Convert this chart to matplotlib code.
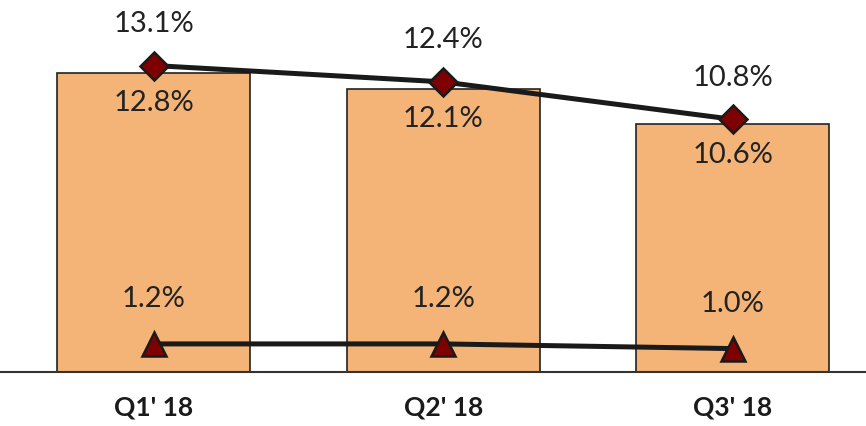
import matplotlib.pyplot as plt

quarters = ["Q1' 18", "Q2' 18", "Q3' 18"]
bar_vals = [12.8, 12.1, 10.6]
diamond_vals = [13.1, 12.4, 10.8]
triangle_vals = [1.2, 1.2, 1.0]

plt.rcParams['font.family'] = ['Lato', 'DejaVu Sans']

fig = plt.figure(figsize=(8.66, 4.26), dpi=100)
ax = fig.add_axes([0, 0.1268, 1, 0.8732])

x = range(len(quarters))
ax.bar(x, bar_vals, width=0.667, color='#F4B477', edgecolor='#222222', linewidth=1.2, zorder=2)
ax.plot(x, diamond_vals, color='#1a1a1a', lw=3.6, marker='D', ms=14,
        mfc='#7f0000', mec='#1a1a1a', mew=1.8, zorder=4)
ax.plot(x, triangle_vals, color='#1a1a1a', lw=3.6, marker='^', ms=17,
        mfc='#7f0000', mec='#1a1a1a', mew=1.8, zorder=4)

for i in x:
    ax.annotate(f"{bar_vals[i]:.1f}%", (i, bar_vals[i]), xytext=(0, -22), textcoords='offset points',
                ha='center', va='center', fontsize=21, color='#222222', zorder=5)
    ax.annotate(f"{diamond_vals[i]:.1f}%", (i, diamond_vals[i]), xytext=(0, 30), textcoords='offset points',
                ha='center', va='center', fontsize=21, color='#222222', zorder=5)
    ax.annotate(f"{triangle_vals[i]:.1f}%", (i, triangle_vals[i]), xytext=(0, 32), textcoords='offset points',
                ha='center', va='center', fontsize=21, color='#222222', zorder=5)

ax.set_xlim(-0.53, 2.46)
ax.set_ylim(0, 15.9)
ax.set_xticks(list(x))
ax.set_xticklabels(quarters, fontsize=19, fontweight='bold', color='#1a1a1a')
ax.tick_params(axis='x', length=0, pad=17)
ax.set_yticks([])
for s in ['top', 'right', 'left']:
    ax.spines[s].set_visible(False)
ax.spines['bottom'].set_color('#333333')
ax.spines['bottom'].set_linewidth(1.5)

fig.savefig('out.png', dpi=100)
